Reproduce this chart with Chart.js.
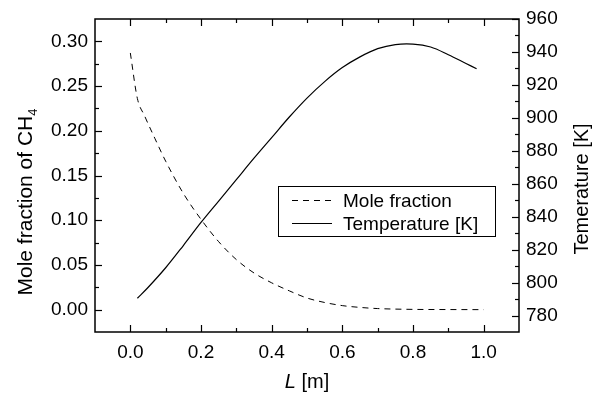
<!DOCTYPE html>
<html>
<head>
<meta charset="utf-8">
<script src="https://cdn.jsdelivr.net/npm/chart.js@4.4.1/dist/chart.umd.min.js"></script>
<style>
  body { margin: 0; background: #fff; }
  #wrap { width: 601px; height: 397px; }
</style>
</head>
<body>
<div id="wrap"><canvas id="myChart"></canvas></div>
<script>
// distance along reactor [m] and CH4 mole fraction
const L_MOLE = [0, 0.02, 0.04, 0.07, 0.1, 0.15, 0.2, 0.25, 0.3, 0.35, 0.4, 0.45, 0.5, 0.55, 0.6, 0.65, 0.7, 0.8, 0.9, 1.0];
const MOLE = [0.287, 0.236, 0.217, 0.191, 0.166, 0.130, 0.101, 0.076, 0.056, 0.041, 0.030, 0.021, 0.013, 0.008, 0.0045, 0.0025, 0.0012, 0.0003, 0.0001, 0];

// temperature profile [K]
const L_TEMP = [0.02, 0.05, 0.1, 0.15, 0.2, 0.25, 0.3, 0.35, 0.4, 0.45, 0.5, 0.55, 0.6, 0.65, 0.7, 0.75, 0.8, 0.85, 0.9, 0.95, 0.98];
const TEMP = [790.5, 797, 809, 822.5, 836.5, 849.5, 862.5, 875.5, 888, 900.5, 912, 922, 930.5, 937, 942, 944.5, 944.8, 943, 938.3, 933, 929.8];

// ticks
const X_TICKS = [0, 0.2, 0.4, 0.6, 0.8, 1.0];
const X_MINOR = [0.1, 0.3, 0.5, 0.7, 0.9];
const Y_TICKS = [0, 0.05, 0.10, 0.15, 0.20, 0.25, 0.30];
const Y_MINOR = [0.025, 0.075, 0.125, 0.175, 0.225, 0.275];
const T_TICKS = [780, 800, 820, 840, 860, 880, 900, 920, 940, 960];
const T_MINOR = [790, 810, 830, 850, 870, 890, 910, 930, 950];

const FONT = '"Liberation Sans", Arial, sans-serif';
Chart.defaults.color = '#000';
Chart.defaults.font.family = FONT;
Chart.defaults.font.size = 19;

const setTicks = (vals) => (scale) => { scale.ticks = vals.map(v => ({ value: v })); };

// frame + inward tick marks on all four sides
const framePlugin = {
  id: 'frame',
  afterDraw(chart) {
    const { ctx, chartArea: a, scales } = chart;
    ctx.save();
    ctx.strokeStyle = '#000';
    ctx.lineWidth = 1.5;
    ctx.strokeRect(a.left, a.top, a.right - a.left, a.bottom - a.top);
    ctx.lineWidth = 1.2;
    const xt = (vals, len) => vals.forEach(v => {
      const px = Math.round(scales.x.getPixelForValue(v)) + 0.5;
      ctx.beginPath();
      ctx.moveTo(px, a.bottom); ctx.lineTo(px, a.bottom - len);
      ctx.moveTo(px, a.top); ctx.lineTo(px, a.top + len);
      ctx.stroke();
    });
    const yt = (scale, vals, len, right) => vals.forEach(v => {
      const py = Math.round(scale.getPixelForValue(v)) + 0.5;
      const x0 = right ? a.right : a.left;
      ctx.beginPath();
      ctx.moveTo(x0, py); ctx.lineTo(right ? x0 - len : x0 + len, py);
      ctx.stroke();
    });
    xt(X_TICKS, 7); xt(X_MINOR, 4);
    yt(scales.y, Y_TICKS, 7, false); yt(scales.y, Y_MINOR, 4, false);
    yt(scales.y1, T_TICKS, 7, true); yt(scales.y1, T_MINOR, 4, true);
    ctx.restore();
  }
};

// axis titles with italic L and subscript 4
const titlePlugin = {
  id: 'titles',
  afterDraw(chart) {
    const { ctx, chartArea: a } = chart;
    ctx.save();
    ctx.fillStyle = '#000';
    ctx.textBaseline = 'middle';

    // left
    ctx.font = '21px ' + FONT;
    const main = 'Mole fraction of CH';
    const wMain = ctx.measureText(main).width;
    ctx.font = '13px ' + FONT;
    const wSub = ctx.measureText('4').width;
    ctx.save();
    ctx.translate(26, 202);
    ctx.rotate(-Math.PI / 2);
    const s = -(wMain + wSub) / 2;
    ctx.font = '21px ' + FONT;
    ctx.fillText(main, s, 0);
    ctx.font = '13px ' + FONT;
    ctx.fillText('4', s + wMain, 7);
    ctx.restore();

    // right
    ctx.save();
    ctx.font = '20px ' + FONT;
    ctx.translate(582, 189);
    ctx.rotate(-Math.PI / 2);
    ctx.textAlign = 'center';
    ctx.fillText('Temerature [K]', 0, 0);
    ctx.restore();

    // bottom
    ctx.font = 'italic 20px ' + FONT;
    const wL = ctx.measureText('L').width;
    ctx.font = '20px ' + FONT;
    const wRest = ctx.measureText(' [m]').width;
    const cx = (a.left + a.right) / 2;
    const x0 = cx - (wL + wRest) / 2;
    ctx.font = 'italic 20px ' + FONT;
    ctx.fillText('L', x0, 382);
    ctx.font = '20px ' + FONT;
    ctx.fillText(' [m]', x0 + wL, 382);
    ctx.restore();
  }
};

// boxed legend inside the plot
const legendPlugin = {
  id: 'boxLegend',
  afterDraw(chart) {
    const ctx = chart.ctx;
    const sets = chart.data.datasets;
    ctx.save();
    ctx.fillStyle = '#fff';
    ctx.fillRect(278.5, 186.5, 217, 50);
    ctx.strokeStyle = '#000';
    ctx.lineWidth = 1;
    ctx.strokeRect(278.5, 186.5, 217, 50);
    ctx.font = '19px ' + FONT;
    ctx.fillStyle = '#000';
    ctx.textBaseline = 'middle';
    sets.forEach((ds, i) => {
      const y = 200.5 + i * 23;
      ctx.setLineDash(ds.borderDash || []);
      ctx.beginPath();
      ctx.moveTo(292, y); ctx.lineTo(332, y);
      ctx.stroke();
      ctx.setLineDash([]);
      ctx.fillText(ds.label, 343, y + 1);
    });
    ctx.restore();
  }
};

new Chart(document.getElementById('myChart'), {
  type: 'line',
  data: {
    datasets: [{
      label: 'Mole fraction',
      data: L_MOLE.map((x, i) => ({ x: x, y: MOLE[i] })),
      yAxisID: 'y',
      borderColor: '#000',
      borderWidth: 1,
      borderDash: [6, 5],
      pointRadius: 0,
      cubicInterpolationMode: 'monotone'
    }, {
      label: 'Temperature [K]',
      data: L_TEMP.map((x, i) => ({ x: x, y: TEMP[i] })),
      yAxisID: 'y1',
      borderColor: '#000',
      borderWidth: 1.2,
      pointRadius: 0,
      tension: 0.35
    }]
  },
  options: {
    responsive: true,
    maintainAspectRatio: false,
    animation: false,
    layout: { padding: { top: 19, left: 0, right: 0, bottom: 0 } },
    plugins: { legend: { display: false }, tooltip: { enabled: false } },
    scales: {
      x: {
        type: 'linear',
        min: -0.1, max: 1.1,
        afterBuildTicks: setTicks(X_TICKS),
        afterFit: (s) => { s.height = 65; },
        grid: { display: false, drawTicks: false },
        border: { display: false },
        ticks: { padding: 9, callback: v => v.toFixed(1) }
      },
      y: {
        position: 'left',
        min: -0.025, max: 0.325,
        afterBuildTicks: setTicks(Y_TICKS),
        afterFit: (s) => { s.width = 95; },
        grid: { display: false, drawTicks: false },
        border: { display: false },
        ticks: { padding: 7, callback: v => v.toFixed(2) }
      },
      y1: {
        position: 'right',
        min: 770, max: 960,
        afterBuildTicks: setTicks(T_TICKS),
        afterFit: (s) => { s.width = 82; },
        grid: { display: false, drawTicks: false },
        border: { display: false },
        ticks: { padding: 7, callback: v => String(v) }
      }
    }
  },
  plugins: [framePlugin, titlePlugin, legendPlugin]
});
</script>
</body>
</html>
